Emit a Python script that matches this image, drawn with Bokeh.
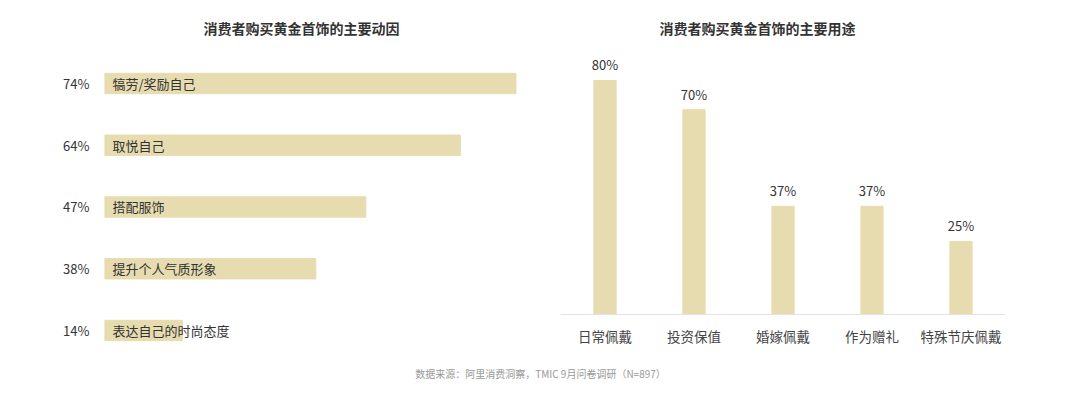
from bokeh.plotting import figure
from bokeh.models import Range1d, FactorRange, FixedTicker, Title, ColumnDataSource, Span
from bokeh.layouts import row, column
from bokeh.core.properties import value
from bokeh.embed import file_html
from bokeh.resources import INLINE

# ---- data ----
motive_title = "消费者购买黄金首饰的主要动因"
motives = ["犒劳/奖励自己", "取悦自己", "搭配服饰", "提升个人气质形象", "表达自己的时尚态度"]
motive_vals = [74, 64, 47, 38, 14]

usage_title = "消费者购买黄金首饰的主要用途"
usages = ["日常佩戴", "投资保值", "婚嫁佩戴", "作为赠礼", "特殊节庆佩戴"]
usage_vals = [80, 70, 37, 37, 25]

footer = "数据来源：阿里消费洞察，TMIC 9月问卷调研（N=897）"

FONT = "Noto Sans CJK SC"
BAR = "#E6DCB0"
TXT = "#333333"

def base(p):
    p.outline_line_color = None
    p.xgrid.grid_line_color = None
    p.ygrid.grid_line_color = None
    p.background_fill_color = "white"
    p.border_fill_color = "white"
    return p

def add_title(p, text):
    p.add_layout(Title(text=text, align="left", offset=99, standoff=29, text_font=FONT,
                       text_font_size="14px", text_font_style="bold", text_color=TXT), "above")

# ---- left: horizontal bars ----
idx = list(range(len(motives)))
src1 = ColumnDataSource(dict(y=idx, v=motive_vals, name=motives))
p1 = figure(width=540, height=355, x_range=Range1d(0, 75), y_range=Range1d(4.324, -0.502),
            output_backend="svg", toolbar_location=None,
            min_border_left=104, min_border_right=19, min_border_top=52, min_border_bottom=5)
base(p1)
add_title(p1, motive_title)
p1.hbar(y="y", left=0, right="v", height=0.33, color=BAR, source=src1)
p1.text(x=0, y="y", text="name", source=src1, x_offset=8, text_baseline="middle",
        text_align="left", text_font=value(FONT), text_font_size="13px", text_color=TXT)
p1.xaxis.visible = False
p1.yaxis.ticker = FixedTicker(ticks=idx)
p1.yaxis.major_label_overrides = {i: f"{v}%" for i, v in zip(idx, motive_vals)}
p1.yaxis.axis_line_color = None
p1.yaxis.major_tick_line_color = None
p1.yaxis.minor_tick_line_color = None
p1.yaxis.major_label_standoff = 9
p1.yaxis.major_label_text_font = FONT
p1.yaxis.major_label_text_font_size = "13px"
p1.yaxis.major_label_text_color = TXT

# ---- right: vertical bars ----
src2 = ColumnDataSource(dict(x=usages, v=usage_vals, lab=[f"{v}%" for v in usage_vals]))
p2 = figure(width=540, height=355, x_range=FactorRange(*usages, range_padding=0),
            y_range=Range1d(-12.3, 89.57), output_backend="svg", toolbar_location=None,
            min_border_left=20, min_border_right=75, min_border_top=52, min_border_bottom=5)
base(p2)
add_title(p2, usage_title)
p2.vbar(x="x", top="v", bottom=0, width=0.25, color=BAR, source=src2)
p2.add_layout(Span(location=0, dimension="width", line_color="#E3E3E3", line_width=1))
p2.text(x="x", y="v", text="lab", source=src2, y_offset=-6, text_align="center",
        text_baseline="bottom", text_font=value(FONT), text_font_size="13px", text_color=TXT)
p2.text(x="x", y=0, text="x", source=src2, y_offset=11, text_align="center",
        text_baseline="top", text_font=value(FONT), text_font_size="13.5px", text_color="#444444")
p2.xaxis.visible = False
p2.yaxis.visible = False

# ---- footer ----
p3 = figure(width=1080, height=62, x_range=Range1d(0, 1), y_range=Range1d(0, 1),
            output_backend="svg", toolbar_location=None,
            min_border_left=0, min_border_right=0, min_border_top=0, min_border_bottom=0)
base(p3)
p3.axis.visible = False
p3.text(x=[0.5], y=[0.5], text=[footer], y_offset=-13, text_align="center",
        text_baseline="middle", text_font=value(FONT), text_font_size="10px",
        text_color="#999999")

layout = column(row(p1, p2), p3)
open("out.html", "w").write(file_html(layout, INLINE))
